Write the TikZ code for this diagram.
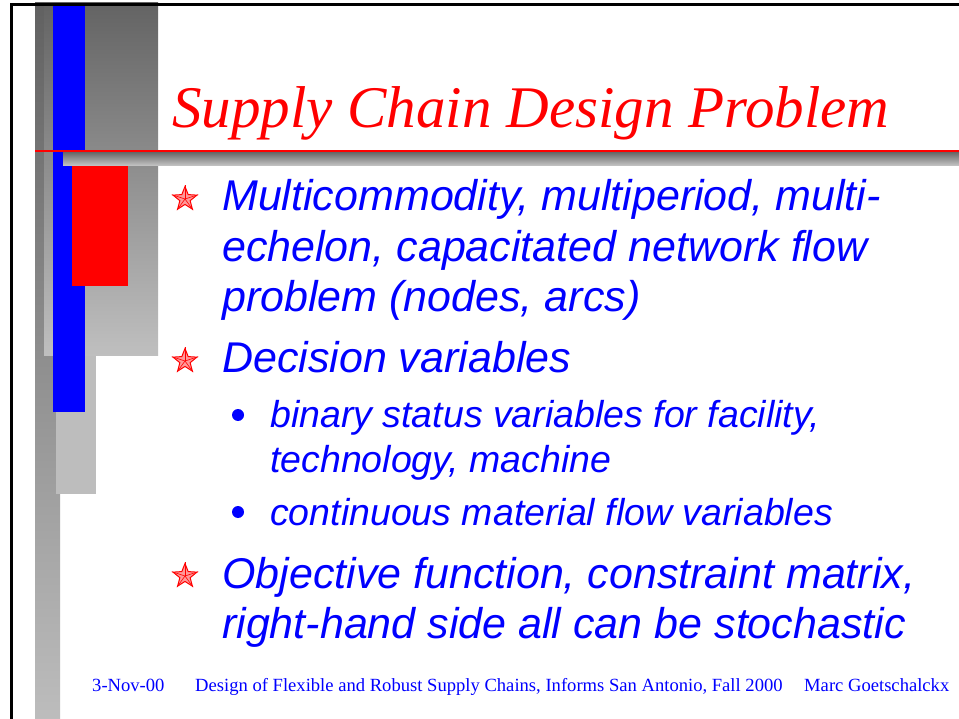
\documentclass[tikz,border=0pt]{standalone}
\usepackage{fontspec}
\setmainfont{Liberation Serif}
\setsansfont{Liberation Sans}
\usetikzlibrary{shapes.geometric}
\definecolor{slideblue}{RGB}{0,0,255}
\definecolor{slidered}{RGB}{255,0,0}
\tikzset{
  headline/.style={anchor=base west,inner sep=0pt,text=slidered,font=\fontsize{59}{61}\selectfont\itshape},
  mainline/.style={anchor=base west,inner sep=0pt,text=slideblue,font=\fontsize{43}{45}\selectfont\sffamily\itshape},
  subline/.style={anchor=base west,inner sep=0pt,text=slideblue,font=\fontsize{37.5}{39}\selectfont\sffamily\itshape},
  footline/.style={anchor=base west,inner sep=0pt,text=slideblue,font=\fontsize{18.6}{20}\selectfont},
  starmark/.style={star,star points=5,star point ratio=2.3,minimum size=25pt,inner sep=0pt,draw=slidered,fill=slidered!40,line width=1pt},
  dotmark/.style={circle,fill=slideblue,minimum size=12pt,inner sep=0pt}
}

\begin{document}
\begin{tikzpicture}[x=1pt,y=-1pt]
    \useasboundingbox (0,0) rectangle (959,719);
    \fill[white] (0,0) rectangle (959,719);
    \shade[top color=black!62,bottom color=black!26] (35,3) rectangle (60,719);
    \shade[top color=black!61,bottom color=black!25] (44,3) rectangle (158,356);
    \fill[black!26] (56,356) rectangle (96,494);
    \fill[slideblue] (53,3) rectangle (85,412);
    \fill[slidered] (72,166) rectangle (128,286);
    \shade[top color=black!60,bottom color=black!22] (63,152) rectangle (959,166);
    \draw[slidered,line width=1.5pt] (35,151) -- (959,151);
    \draw[line width=2.5pt] (11.5,719) -- (11.5,4.5) -- (959,4.5);
    \node[headline] (title) at (172,128) {Supply Chain Design Problem};
    \node[starmark] (star1) at (185,199) {};
    \node[starmark] (star2) at (185,361) {};
    \node[starmark] (star3) at (185,576) {};
    \foreach \s in {star1,star2,star3}
      \foreach \k in {1,...,5}
        \draw[slidered,line width=0.6pt] (\s.center) -- (\s.outer point \k);
    \node[mainline] (flowA) at (222,211) {Multicommodity, multiperiod, multi-};
    \node[mainline] (flowB) at (222,262) {echelon, capacitated network flow};
    \node[mainline] (flowC) at (222,312) {problem (nodes, arcs)};
    \node[mainline] (vars) at (222,373) {Decision variables};
    \node[dotmark] (dot1) at (238,415) {};
    \node[subline] (binA) at (270,427) {binary status variables for facility,};
    \node[subline] (binB) at (270,472) {technology, machine};
    \node[dotmark] (dot2) at (238,512) {};
    \node[subline] (cont) at (270,525) {continuous material flow variables};
    \node[mainline] (objA) at (222,588) {Objective function, constraint matrix,};
    \node[mainline] (objB) at (222,638) {right-hand side all can be stochastic};
    \node[footline] (date) at (92,691) {3-Nov-00};
    \node[footline] (event) at (195,691) {Design of Flexible and Robust Supply Chains, Informs San Antonio, Fall 2000};
    \node[footline] (author) at (804,691) {Marc Goetschalckx};
\end{tikzpicture}
\end{document}
